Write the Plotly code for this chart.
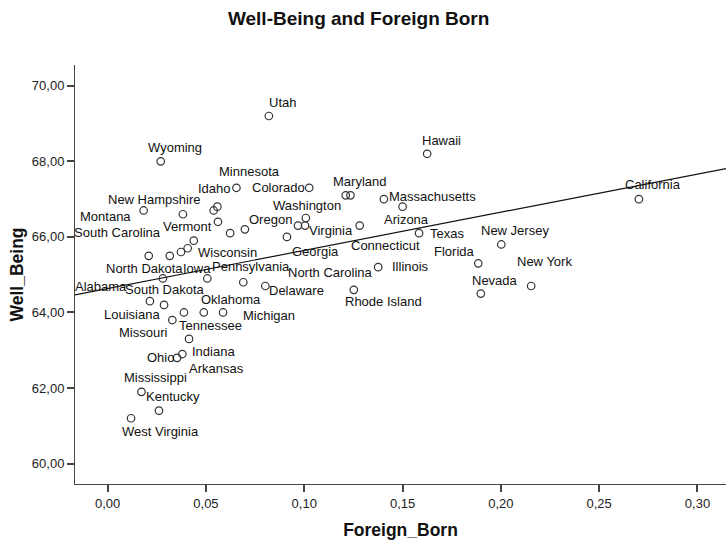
import numpy as np
import plotly.graph_objects as go

# Values (share of foreign-born residents vs. well-being index)
states = [
    "Utah", "Wyoming", "Minnesota", "Colorado", "Montana", "Vermont", "Idaho",
    "New Hampshire", "Kansas", "Nebraska", "Alaska", "Washington", "Oregon",
    "Virginia", "Georgia", "Maine", "Wisconsin", "Iowa", "North Dakota",
    "South Carolina", "South Dakota", "Pennsylvania", "North Carolina", "Delaware",
    "Alabama", "Louisiana", "Tennessee", "Oklahoma", "Michigan", "Missouri",
    "Indiana", "Arkansas", "Ohio", "Mississippi", "Kentucky", "West Virginia",
    "Hawaii", "Maryland", "New Mexico", "Massachusetts", "Arizona", "Connecticut",
    "Texas", "New Jersey", "Florida", "Illinois", "Rhode Island", "Nevada",
    "California", "New York",
]
foreign_born = [
    0.082, 0.027, 0.0655, 0.1025, 0.0183, 0.0383, 0.0558,
    0.0539, 0.0561, 0.0623, 0.0698, 0.1008, 0.0968,
    0.1004, 0.0912, 0.0438, 0.0407, 0.0373, 0.0316,
    0.0209, 0.0281, 0.0507, 0.0690, 0.0802,
    0.0215, 0.0287, 0.0388, 0.0489, 0.0587, 0.0329,
    0.0414, 0.0380, 0.0353, 0.0172, 0.0261, 0.0119,
    0.1625, 0.1211, 0.1235, 0.1405, 0.1500, 0.1282,
    0.1584, 0.2002, 0.1885, 0.1376, 0.1252, 0.1898,
    0.2702, 0.2154,
]
well_being = [
    69.2, 68.0, 67.3, 67.3, 66.7, 66.6, 66.8,
    66.7, 66.4, 66.1, 66.2, 66.5, 66.3,
    66.3, 66.0, 65.9, 65.7, 65.6, 65.5,
    65.5, 64.9, 64.9, 64.8, 64.7,
    64.3, 64.2, 64.0, 64.0, 64.0, 63.8,
    63.3, 62.9, 62.8, 61.9, 61.4, 61.2,
    68.2, 67.1, 67.1, 67.0, 66.8, 66.3,
    66.1, 65.8, 65.3, 65.2, 64.6, 64.5,
    67.0, 64.7,
]

# where each point label sits relative to its marker (screen px, +y = down);
# states missing here are drawn without a label, as in the original
label_offsets = {
    "Utah": (14, -14), "Wyoming": (14, -14), "Minnesota": (13, -16),
    "Colorado": (-31, 0), "Montana": (-38, 6), "Vermont": (5, 12),
    "Idaho": (-3, -18.5), "New Hampshire": (-60, -11), "Washington": (1, -13),
    "Oregon": (-27, -6), "Virginia": (26, 5), "Georgia": (29, 15),
    "Wisconsin": (40, 4), "Iowa": (16, 16), "North Dakota": (-25, 13),
    "South Carolina": (-31, -23), "South Dakota": (2, 11.5),
    "Pennsylvania": (44, -12), "North Carolina": (87, -10), "Delaware": (31, 4),
    "Alabama": (-48.5, -14.5), "Louisiana": (-32, 10), "Tennessee": (27, 13),
    "Oklahoma": (27, -13), "Michigan": (46, 3), "Missouri": (-29, 12),
    "Indiana": (24, 13), "Arkansas": (34.5, 14), "Ohio": (-17, 0),
    "Mississippi": (14, -14), "Kentucky": (14, -14), "West Virginia": (29, 13),
    "Hawaii": (14, -13.5), "Maryland": (14, -14), "Massachusetts": (48.5, -3),
    "Arizona": (3.5, 12.6), "Connecticut": (26, 20), "Texas": (28, 0),
    "New Jersey": (14, -13.5), "Florida": (-24, -12), "Illinois": (32, -1),
    "Rhode Island": (30, 12), "Nevada": (14, -13.5), "California": (14, -15),
    "New York": (13.5, -25),
}

x_range = [-0.0166, 0.3145]
y_range = [59.46, 70.55]
font_family = "Liberation Sans, Arial, sans-serif"
axis_color = "#444444"

# least-squares fit line across the full x axis
slope, intercept = np.polyfit(foreign_born, well_being, 1)
fit_x = np.array(x_range)
fit_y = slope * fit_x + intercept

fig = go.Figure()
fig.add_trace(go.Scatter(
    x=fit_x, y=fit_y, mode="lines",
    line=dict(color="#111111", width=1.2),
    hoverinfo="skip", showlegend=False,
))
fig.add_trace(go.Scatter(
    x=foreign_born, y=well_being, mode="markers", text=states,
    marker=dict(symbol="circle-open", size=7.5, color="#333333", line=dict(width=1.2)),
    hovertemplate="%{text}<br>%{x:.3f}, %{y:.1f}<extra></extra>",
    showlegend=False,
))

for name, fx, wb in zip(states, foreign_born, well_being):
    if name not in label_offsets:
        continue
    dx, dy = label_offsets[name]
    fig.add_annotation(
        x=fx, y=wb, text=name, showarrow=False,
        xanchor="center", yanchor="middle",
        xshift=dx, yshift=-dy,
        font=dict(family=font_family, size=13, color="#111111"),
    )

axis_common = dict(
    showgrid=False, zeroline=False, showline=True,
    linecolor=axis_color, linewidth=1,
    ticks="outside", ticklen=7, tickwidth=2, tickcolor=axis_color,
    tickformat=".2f",
    tickfont=dict(family=font_family, size=13, color="#222222"),
)

fig.update_layout(
    width=726, height=545,
    margin=dict(l=75, r=0, t=65, b=61),
    paper_bgcolor="white", plot_bgcolor="white",
    separators=",.",
    title=dict(
        text="<b>Well-Being and Foreign Born</b>",
        x=0.494, xanchor="center", xref="container",
        y=0.967, yanchor="middle",
        font=dict(family=font_family, size=19, color="#111111"),
    ),
    xaxis=dict(
        axis_common, range=x_range, tick0=0, dtick=0.05,
        title=dict(text="<b>Foreign_Born</b>", standoff=14,
                   font=dict(family=font_family, size=17.5, color="#111111")),
    ),
    yaxis=dict(
        axis_common, range=y_range, tick0=60, dtick=2,
        title=dict(text="<b>Well_Being</b>", standoff=3,
                   font=dict(family=font_family, size=17.5, color="#111111")),
    ),
)

# the page body has a default 8px margin; drop it so the figure sits at the window's corner
fig.write_html(
    "out.html",
    config={"displayModeBar": False},
    post_script="document.body.style.margin = '0';",
)
